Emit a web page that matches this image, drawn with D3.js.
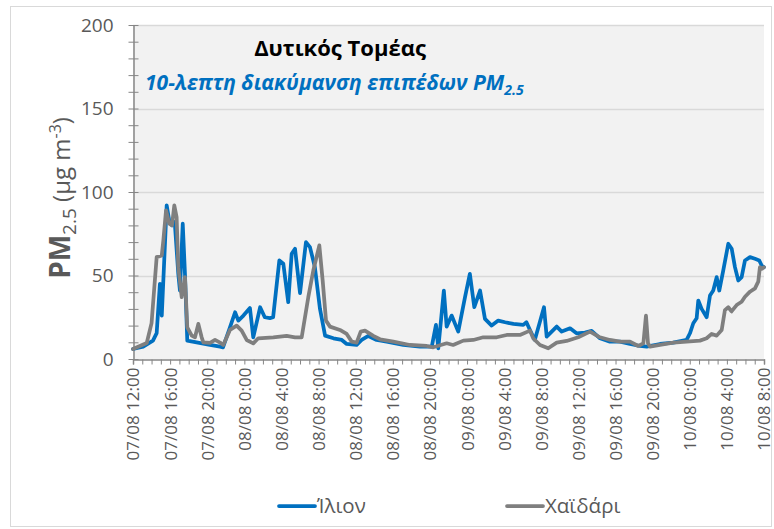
<!DOCTYPE html>
<html>
<head>
<meta charset="utf-8">
<script src="https://cdn.jsdelivr.net/npm/d3@7"></script>
<style>
  html, body { margin: 0; padding: 0; background: #fff; }
  svg { display: block; font-family: "Open Sans", "Liberation Sans", sans-serif; }
</style>
</head>
<body>
<svg id="chart" width="774" height="529"></svg>
<script>
// ---------------- DATA ----------------
// Hours elapsed since 07/08 12:00
const ilionHours = [0,1.1,2.15,2.55,2.9,3.1,3.63,3.9,4.2,4.5,4.88,5.06,5.36,5.6,5.85,6.86,8.3,9.38,9.7,10.45,11.0,11.35,11.9,12.6,12.96,13.7,14.2,14.76,15.1,15.77,16.2,16.73,17.1,17.46,18.0,18.64,19.07,19.6,20.15,20.7,21.6,22.5,23.03,24.1,24.64,25.36,26.26,27.34,29.13,30.93,32.2,32.65,32.9,33.5,33.8,34.34,35.05,35.78,36.3,36.78,37.4,37.93,38.65,39.36,40.1,41.0,42.06,42.4,42.78,43.3,43.86,44.29,44.58,45.12,45.66,46.2,47.1,47.8,48.7,49.43,50.32,51.4,52.48,53.56,54.63,55.36,56.79,58.22,59.66,60.02,60.38,60.74,60.92,61.28,61.82,62.18,62.53,62.9,63.18,63.61,64.15,64.52,64.87,65.23,65.59,65.95,66.49,67.03,67.49,67.75,68];
const ilionValues = [6,7.4,11,15.5,45,26,92,83,80,82,51,41,81,51,11,10,8.4,7.4,7,19,28,23,26,30.5,13,31,25,24.5,25,59,57,34,63,66,39.5,70,67,55,30,14,12.4,11.4,9,8.4,11.4,13.8,11.4,10.4,8.4,7.4,7.4,20.4,6.4,41,19.4,26,16.4,37,51,31,41,24,20,23,22,21,20.4,22,17.4,11.4,22.4,31,13.4,16.4,19.4,16.4,18.4,15.4,15.8,16.8,12.4,10.4,10.4,9,7.8,7.4,9,9.8,11.4,15.4,21.4,24.4,35,30,25,38,41,49,41,53,69,66,55,47,49,59,61,60,59,56,55];

const haidariHours = [0,1.48,2.0,2.55,3.1,3.27,3.56,3.91,4.2,4.45,4.7,4.88,5.25,5.6,5.85,6.33,6.68,7.04,7.4,7.58,8.3,8.84,9.38,9.73,10.45,11.17,11.71,12.25,12.96,13.5,15.12,16.56,17.46,18.18,18.89,19.43,20.08,20.44,20.8,21.23,22.3,23.03,23.57,24.1,24.54,25.0,25.9,26.62,28.05,29.85,31.65,32.36,33.8,34.5,35.6,36.67,37.75,39.2,40.27,41.7,42.78,43.13,43.86,44.75,45.66,46.73,47.98,49.25,50.32,51.4,52.48,53.56,54.45,55.0,55.28,55.5,55.71,56.79,58.22,59.66,61.1,61.82,62.36,62.9,63.44,63.79,64.15,64.5,65.05,65.59,65.95,66.49,67.03,67.38,67.56,67.78,68];
const haidariValues = [6,9.6,21.5,61,62,71,89,81,80,92,85,55,37,49,19,14,13,21,13,10,9.6,11.4,9.8,8.4,17.4,20,17,11.4,9.4,12.4,13,13.8,13,13,37,53,68,47,23,19.4,17.4,15,10.4,9.8,16.4,17,13.8,11.8,10.4,8.4,7.8,7,9.4,8.4,11,11.4,13,13,14.4,14.4,17,12.4,8.4,6.4,9.8,10.8,13,16.4,13,11.4,10.4,10.4,7.8,9.4,26,9.4,7.4,8.4,9.8,10.4,11,12.4,15,14,17.4,29.3,31,28.5,32.3,34.3,37.3,40.3,42.3,46.3,55,54,55];

const seriesNames = ["Ίλιον", "Χαϊδάρι"];
const yMajorTicks = [0, 50, 100, 150, 200];
const chartTitle = "Δυτικός Τομέας";
const chartSubtitle = "10-λεπτη διακύμανση επιπέδων PM";

// ---------------- SETUP ----------------
const startTime = new Date(2019, 7, 7, 12, 0);
const endTime = new Date(2019, 7, 10, 8, 0);
const toDate = h => new Date(startTime.getTime() + h * 3600000);

const colors = { ilion: "#0070C0", haidari: "#7F7F7F" };
const textColor = "#595959";
const font = "'Open Sans', 'Liberation Sans', sans-serif";

const svg = d3.select("#chart");
const plot = { left: 133, right: 764, top: 25, bottom: 359 };

// outer chart border
svg.append("rect")
  .attr("x", 10.5).attr("y", 6.5).attr("width", 761).attr("height", 520)
  .attr("fill", "#fff").attr("stroke", "#D9D9D9").attr("stroke-width", 1);

const x = d3.scaleTime().domain([startTime, endTime]).range([plot.left, plot.right]);
const y = d3.scaleLinear().domain([0, 200]).range([plot.bottom, plot.top]);

// plot background
svg.append("rect")
  .attr("x", plot.left).attr("y", plot.top)
  .attr("width", plot.right - plot.left).attr("height", plot.bottom - plot.top)
  .attr("fill", "#F2F2F2");

// gridlines
svg.append("g").selectAll("line")
  .data(yMajorTicks.filter(v => v > 0))
  .join("line")
  .attr("x1", plot.left).attr("x2", plot.right)
  .attr("y1", d => Math.round(y(d)) + 0.5).attr("y2", d => Math.round(y(d)) + 0.5)
  .attr("stroke", "#D9D9D9").attr("stroke-width", 1.5);

// ---------------- AXES ----------------
const yMinor = svg.append("g")
  .attr("transform", `translate(${plot.left + 0.5},0)`)
  .call(d3.axisLeft(y).tickValues(d3.range(0, 201, 10)).tickSize(5).tickFormat(""));
yMinor.select(".domain").remove();
yMinor.selectAll("line").attr("x2", -5).attr("x1", 5).attr("stroke", "#868686");

const yAxis = svg.append("g")
  .attr("transform", `translate(${plot.left + 0.5},0)`)
  .call(d3.axisLeft(y).tickValues(yMajorTicks).tickSize(0).tickPadding(20));
yAxis.select(".domain").attr("stroke", "#868686").attr("stroke-width", 1.5);
yAxis.selectAll("text")
  .attr("fill", textColor).attr("font-size", 19)
  .attr("font-family", font);

const hourTicks = d3.timeHour.range(startTime, d3.timeHour.offset(endTime, 1), 1);
const labelTicks = hourTicks.filter(d => (d - startTime) / 3600000 % 4 === 0);
const fmt = d3.timeFormat("%d/%m %-H:%M");

const xMinor = svg.append("g")
  .attr("transform", `translate(0,${plot.bottom + 0.5})`)
  .call(d3.axisBottom(x).tickValues(hourTicks).tickSize(5).tickFormat(""));
xMinor.select(".domain").attr("stroke", "#868686").attr("stroke-width", 1.5);
xMinor.selectAll("line").attr("stroke", "#868686");

const xAxis = svg.append("g")
  .attr("transform", `translate(0,${plot.bottom + 0.5})`)
  .call(d3.axisBottom(x).tickValues(labelTicks).tickSize(0).tickFormat(fmt));
xAxis.select(".domain").remove();
xAxis.selectAll("text")
  .attr("transform", "rotate(-90)")
  .attr("text-anchor", "end")
  .attr("x", -8).attr("y", 0).attr("dy", "0.35em")
  .attr("fill", textColor).attr("font-size", 17)
  .attr("font-family", font);

// ---------------- LINES ----------------
const line = d3.line()
  .x(d => x(toDate(d[0])))
  .y(d => y(d[1]));

const ilionData = ilionHours.map((h, i) => [h, ilionValues[i]]);
const haidariData = haidariHours.map((h, i) => [h, haidariValues[i]]);

svg.append("path").datum(ilionData)
  .attr("d", line).attr("fill", "none")
  .attr("stroke", colors.ilion).attr("stroke-width", 3.75)
  .attr("stroke-linejoin", "round").attr("stroke-linecap", "round");

svg.append("path").datum(haidariData)
  .attr("d", line).attr("fill", "none")
  .attr("stroke", colors.haidari).attr("stroke-width", 3.75)
  .attr("stroke-linejoin", "round").attr("stroke-linecap", "round");

// ---------------- TITLES ----------------
svg.append("text")
  .attr("x", 340).attr("y", 56)
  .attr("text-anchor", "middle").attr("font-family", font)
  .attr("font-size", 22).attr("font-weight", "bold").attr("fill", "#000")
  .text(chartTitle);

const sub = svg.append("text")
  .attr("x", 145).attr("y", 90).attr("font-family", font)
  .attr("font-size", 21).attr("font-weight", "bold").attr("font-style", "italic")
  .attr("fill", colors.ilion);
sub.append("tspan").text(chartSubtitle);
sub.append("tspan").attr("dy", 5).attr("font-size", 14).text("2.5");

// Y axis title
const yt = svg.append("text")
  .attr("transform", "translate(70,198) rotate(-90)")
  .attr("text-anchor", "middle").attr("font-family", font)
  .attr("fill", textColor);
yt.append("tspan").attr("font-size", 28).attr("font-weight", "bold").text("PM");
yt.append("tspan").attr("font-size", 19).attr("dy", 6).text("2.5");
yt.append("tspan").attr("font-size", 24).attr("dy", -6).text(" (μg m");
yt.append("tspan").attr("font-size", 16).attr("dy", -9).text("-3");
yt.append("tspan").attr("font-size", 24).attr("dy", 9).text(")");

// ---------------- LEGEND ----------------
const legendItems = [
  { name: seriesNames[0], color: colors.ilion, x: 279 },
  { name: seriesNames[1], color: colors.haidari, x: 507 }
];
const lg = svg.append("g").selectAll("g").data(legendItems).join("g")
  .attr("transform", d => `translate(${d.x},506)`);
lg.append("line").attr("x1", 0).attr("x2", 36).attr("y1", 0).attr("y2", 0)
  .attr("stroke", d => d.color).attr("stroke-width", 3.75).attr("stroke-linecap", "round");
lg.append("text").attr("x", 38).attr("y", 7).attr("font-family", font)
  .attr("font-size", 20.5).attr("fill", textColor).text(d => d.name);
</script>
</body>
</html>
